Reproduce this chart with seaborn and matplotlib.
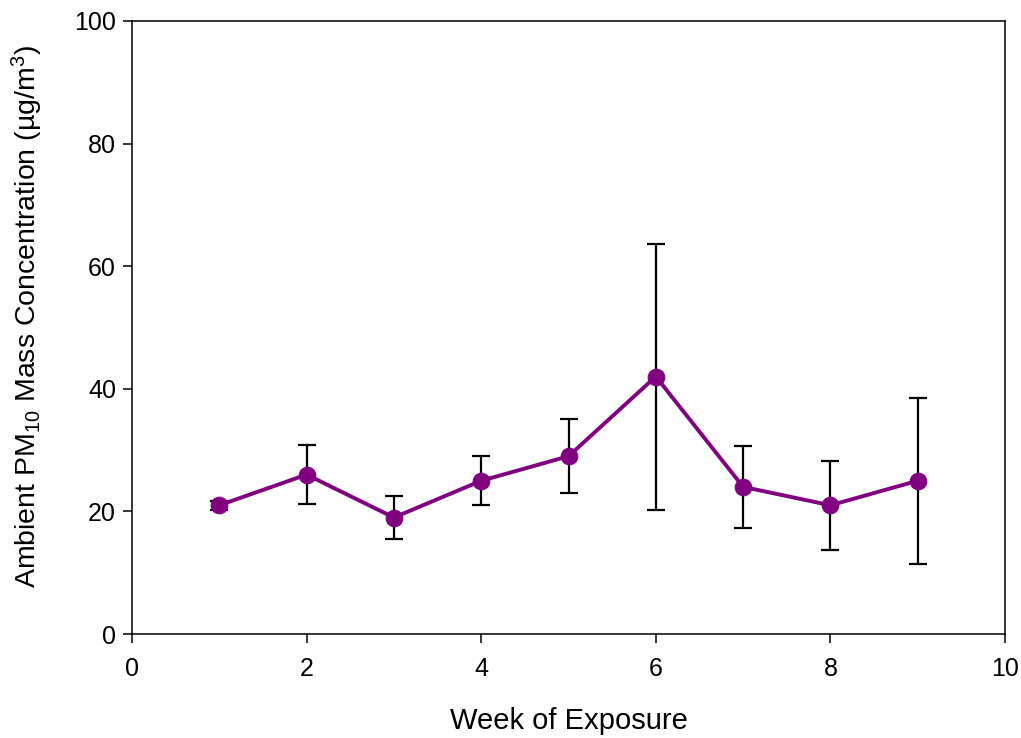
import matplotlib
matplotlib.use("Agg")
import matplotlib.pyplot as plt
import seaborn as sns
import pandas as pd

# Weekly ambient PM10 mass concentration (mean and +/- error)
weeks = [1, 2, 3, 4, 5, 6, 7, 8, 9]
pm10_mean = [21, 26, 19, 25, 29, 42, 24, 21, 25]
pm10_err = [0.7, 4.8, 3.5, 4.0, 6.0, 21.7, 6.7, 7.3, 13.5]

x_ticks = [0, 2, 4, 6, 8, 10]
y_ticks = [0, 20, 40, 60, 80, 100]

sns.set_theme(style="ticks")
plt.rcParams["font.family"] = ["Liberation Sans", "DejaVu Sans"]
plt.rcParams["mathtext.default"] = "regular"

df = pd.DataFrame({"week": weeks, "pm10": pm10_mean, "err": pm10_err})

fig = plt.figure(figsize=(10.21, 7.38), dpi=100)
ax = fig.add_axes([132 / 1021, 1 - 634 / 738, (1005 - 132) / 1021, (634 - 21) / 738])

ax.errorbar(df["week"], df["pm10"], yerr=df["err"], fmt="none",
            ecolor="black", elinewidth=1.6, capsize=6.5, capthick=1.6, zorder=2)
sns.lineplot(data=df, x="week", y="pm10", ax=ax, color="#800080",
             linewidth=2.8, marker="o", markersize=12,
             markeredgecolor="#800080", zorder=3)

ax.set_xlim(0, 10)
ax.set_ylim(0, 100)
ax.set_xticks(x_ticks)
ax.set_yticks(y_ticks)
ax.tick_params(axis="both", labelsize=18, length=6.5, width=1.1,
               color="black", labelcolor="black", direction="out")
ax.tick_params(axis="x", pad=10)
ax.tick_params(axis="y", pad=5)

for side in ["left", "right", "top", "bottom"]:
    ax.spines[side].set_visible(True)
    ax.spines[side].set_linewidth(1.1)
    ax.spines[side].set_color("black")

ax.set_xlabel("Week of Exposure", fontsize=21, labelpad=19, color="black")
ax.set_ylabel(r"Ambient PM$_{10}$ Mass Concentration (µg/m$^3$)",
              fontsize=20.5, labelpad=21, color="black")
ax.yaxis.label.set_y(0.518)

fig.savefig("out.png", dpi=100)
